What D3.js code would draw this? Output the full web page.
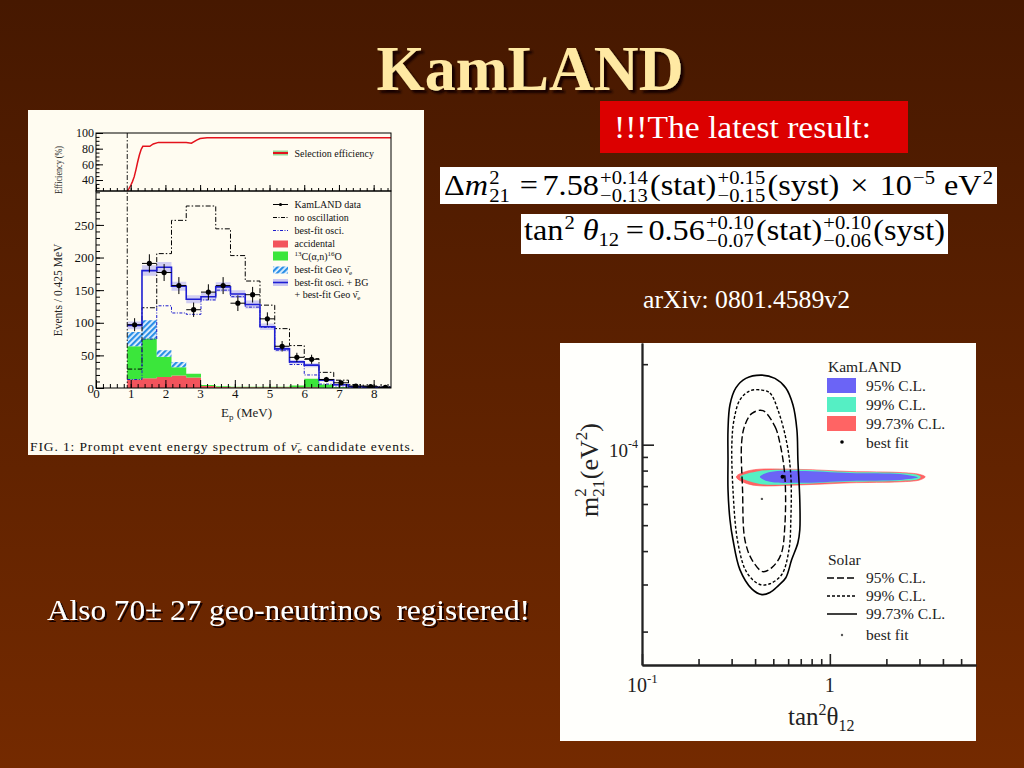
<!DOCTYPE html>
<html>
<head>
<meta charset="utf-8">
<title>KamLAND</title>
<script src="https://cdn.jsdelivr.net/npm/d3@7/dist/d3.min.js"></script>
<style>
  body { margin: 0; background: #5a2000; overflow: hidden; }
  svg { display: block; }
  svg text { font-family: "Liberation Serif", "Times New Roman", Times, serif !important; }
</style>
</head>
<body>
<div id="slide"></div>
<script>
var SERIF = "Liberation Serif";

// ---- left figure: prompt energy spectrum ----
var binEdges   = [0.9, 1.325, 1.75, 2.175, 2.6, 3.025, 3.45, 3.875, 4.3, 4.725, 5.15, 5.575, 6.0, 6.425, 6.85, 7.275, 7.7, 8.125, 8.55];
var noOsc      = [29, 123, 206, 257, 279, 279, 244, 203, 164, 127, 91, 65, 45, 24, 12, 5, 3, 2];
var bestOsc    = [13, 75, 126, 115, 113, 135, 150, 140, 124, 93, 58, 36, 20, 6, 3, 1, 0.5, 0.3];
var fitTotal   = [96, 180, 185, 156, 136, 140, 155, 144, 128, 94, 60, 40, 35, 12, 5, 2, 1, 0.5];
var fitBand    = [6, 8, 8, 7, 6, 6, 7, 6, 6, 5, 4, 3, 3, 2, 1, 1, 1, 1];
var accidental = [13, 15, 17, 19, 16, 3, 1.5, 1, 1, 1, 1, 1, 1, 0.5, 0.5, 0.3, 0.2, 0.2];
var carbonAN   = [51, 61, 31, 13, 6, 1.5, 1, 1, 1, 1, 1, 3, 13, 5, 1, 0.3, 0, 0];
var geoNu      = [22, 28, 10, 8, 0, 0, 0, 0, 0, 0, 0, 0, 0, 0, 0, 0, 0, 0];
var dataVal    = [97, 191, 177, 157, 120, 147, 157, 130, 143, 106, 64, 47, 44, 13, 8, 3, 2, 1];
var dataErr    = [10, 14, 13, 13, 11, 12, 13, 12, 12, 10, 8, 7, 7, 4, 3, 2, 1.5, 1];
var effE   = [0.9, 0.95, 1.0, 1.05, 1.1, 1.15, 1.2, 1.25, 1.3, 1.35, 1.45, 1.55, 1.65, 1.8, 2.0, 2.3, 2.6, 2.75, 2.9, 3.0, 3.2, 3.6, 4.5, 6, 7.5, 8.5];
var effVal = [26, 29, 33, 38, 44, 53, 63, 72, 79, 83, 83, 83, 86, 88, 88, 88, 88, 87, 91, 93, 94, 94, 94, 94, 94, 94];
var effTicks = [40, 60, 80, 100];
var evTicks  = [0, 50, 100, 150, 200, 250];
var eTicks   = [0, 1, 2, 3, 4, 5, 6, 7, 8];

// ---- right figure: oscillation parameter contours (dm2 in 1e-5 eV^2) ----
var kl997 = [[0.318,7.58],[0.375,8.01],[0.692,8.08],[1.28,7.94],[2.36,7.87],[3.01,7.74],[3.22,7.58],[3.01,7.38],[2.36,7.26],[1.28,7.2],[0.692,7.07],[0.375,7.1]];
var kl99  = [[0.332,7.58],[0.424,7.98],[0.692,8.05],[1.28,7.9],[2.36,7.84],[2.94,7.71],[3.05,7.58],[2.94,7.42],[2.36,7.32],[1.28,7.26],[0.692,7.13],[0.424,7.13]];
var kl95  = [[0.424,7.58],[0.48,7.9],[0.692,7.98],[1.28,7.84],[2.36,7.77],[2.76,7.64],[2.95,7.55],[2.36,7.38],[1.28,7.32],[0.692,7.2],[0.48,7.26]];
var solar997 = [[0.435,18.2],[0.51,17.7],[0.583,16.3],[0.636,14.1],[0.668,11.35],[0.676,8.77],[0.692,6.2],[0.692,4.8],[0.676,4.3],[0.626,3.71],[0.583,3.18],[0.529,2.96],[0.48,2.8],[0.435,2.75],[0.384,2.89],[0.332,3.41],[0.305,4.41],[0.294,5.24],[0.287,6.78],[0.287,8.8],[0.287,11.35],[0.294,14.1],[0.316,16.3],[0.357,17.7]];
var solar99  = [[0.435,16.0],[0.48,15.6],[0.529,13.5],[0.59,10.15],[0.62,7.64],[0.62,5.24],[0.606,4.05],[0.555,3.27],[0.48,3.02],[0.424,3.0],[0.362,3.32],[0.324,4.3],[0.305,6.78],[0.301,10.15],[0.309,12.4],[0.332,14.7],[0.375,15.9]];
var solar95  = [[0.44,13.4],[0.51,11.7],[0.542,10.15],[0.576,7.64],[0.576,4.97],[0.549,3.88],[0.491,3.47],[0.44,3.35],[0.385,3.71],[0.353,4.41],[0.343,6.78],[0.339,10.15],[0.353,11.84],[0.385,13.1]];
var klBest    = [0.56, 7.58];
var solarBest = [0.435, 6.27];
var tanMinor = [0.2, 0.3, 0.4, 0.5, 0.6, 0.7, 0.8, 0.9, 2, 3, 4, 5];
var tanMajor = [0.1, 1];
var dmMinor  = [2e-5, 3e-5, 4e-5, 5e-5, 6e-5, 7e-5, 8e-5, 9e-5, 2e-4];
var dmMajor  = [1e-4];

// ---- formulas ----
var formula1 = [{t:"Δ"},{t:"m",it:1},{pair:["2","21"]},{gap:7},{t:"="},{gap:4},{t:"7.58"},{pair:["+0.14","−0.13"]},{t:"(stat)"},{pair:["+0.15","−0.15"]},{t:"(syst)"},{gap:10},{t:"×"},{gap:10},{t:"10"},{sup:"−5"},{gap:8},{t:"eV"},{sup:"2"}];
var formula2 = [{t:"tan"},{sup:"2"},{gap:7},{t:"θ",it:1},{sub:"12"},{gap:6},{t:"="},{gap:4},{t:"0.56"},{pair:["+0.10","−0.07"]},{t:"(stat)"},{pair:["+0.10","−0.06"]},{t:"(syst)"}];

var W = 1024, H = 768;
var svg = d3.select("#slide").append("svg").attr("width", W).attr("height", H)
    .attr("font-family", SERIF);
var defs = svg.append("defs");

var bg = defs.append("linearGradient").attr("id", "bg").attr("x1", 0).attr("y1", 0).attr("x2", 0).attr("y2", 1);
bg.append("stop").attr("offset", "0%").attr("stop-color", "#461800");
bg.append("stop").attr("offset", "100%").attr("stop-color", "#742a00");
svg.append("rect").attr("width", W).attr("height", H).attr("fill", "url(#bg)");

var shadow = defs.append("filter").attr("id", "shadow").attr("x", "-5%").attr("y", "-20%").attr("width", "115%").attr("height", "150%");
shadow.append("feDropShadow").attr("dx", 3).attr("dy", 3).attr("stdDeviation", 0.8)
    .attr("flood-color", "#140500").attr("flood-opacity", 1);
var shadow2 = defs.append("filter").attr("id", "shadow2").attr("x", "-5%").attr("y", "-20%").attr("width", "115%").attr("height", "150%");
shadow2.append("feDropShadow").attr("dx", 2).attr("dy", 2).attr("stdDeviation", 0.6)
    .attr("flood-color", "#140500").attr("flood-opacity", 1);

// title
svg.append("text").attr("x", 530).attr("y", 90).attr("text-anchor", "middle")
    .attr("font-size", 64).attr("font-weight", "bold").attr("fill", "#ffe9a3").attr("filter", "url(#shadow)")
    .attr("textLength", 307).attr("lengthAdjust", "spacingAndGlyphs").text("KamLAND");

// red banner
svg.append("rect").attr("x", 600).attr("y", 101).attr("width", 308).attr("height", 52).attr("fill", "#dc0000");
svg.append("text").attr("x", 614).attr("y", 138).attr("font-size", 31).attr("fill", "#fff")
    .attr("textLength", 257).attr("lengthAdjust", "spacingAndGlyphs").text("!!!The latest result:");

// formula boxes
svg.append("rect").attr("x", 440).attr("y", 167).attr("width", 557).attr("height", 37).attr("fill", "#fff");
svg.append("rect").attr("x", 521).attr("y", 214).attr("width", 427).attr("height", 40).attr("fill", "#fff");

function drawFormula(parts, x0, x1, baseline, size) {
  var g = svg.append("g");
  var small = size * 0.64;
  var x = 0;
  function put(str, px, py, fs, it) {
    var t = g.append("text").attr("x", px).attr("y", py).attr("font-size", fs).attr("fill", "#000")
      .attr("font-style", it ? "italic" : null).text(str);
    return t.node().getComputedTextLength();
  }
  parts.forEach(function(p) {
    if (p.gap) { x += p.gap; }
    else if (p.pair) {
      var a = put(p.pair[0], x + 1, -size * 0.37, small);
      var b = put(p.pair[1], x + 1, size * 0.25, small);
      x += Math.max(a, b) + 3;
    }
    else if (p.sup) { x += put(p.sup, x + 1, -size * 0.38, small) + 1; }
    else if (p.sub) { x += put(p.sub, x, size * 0.22, small); }
    else { x += put(p.t, x, 0, size, p.it); }
  });
  var sx = (x1 - x0) / x;
  g.attr("transform", "translate(" + x0 + "," + baseline + ") scale(" + sx + ",1)");
}
drawFormula(formula1, 444, 993, 195, 29);
drawFormula(formula2, 524, 945, 240, 29);

svg.append("text").attr("x", 643).attr("y", 308).attr("font-size", 24.5).attr("fill", "#fff")
    .attr("textLength", 207).attr("lengthAdjust", "spacingAndGlyphs").text("arXiv: 0801.4589v2");

svg.append("text").attr("x", 47).attr("y", 620).attr("font-size", 30).attr("fill", "#fff").attr("filter", "url(#shadow2)")
    .attr("textLength", 483).attr("lengthAdjust", "spacingAndGlyphs").text("Also 70± 27 geo-neutrinos  registered!")
    .style("white-space", "pre");

// =================== LEFT FIGURE ===================
var L = svg.append("g");
L.append("rect").attr("x", 28).attr("y", 110).attr("width", 396).attr("height", 345).attr("fill", "#fffcf1");

var xE = d3.scaleLinear().domain([0, 8.5]).range([96, 391]);
var yEff = d3.scaleLinear().domain([26, 100]).range([191, 133]);
var yEv = d3.scaleLinear().domain([0, 302]).range([388, 191]);

defs.append("clipPath").attr("id", "histClip").append("rect")
    .attr("x", xE(0)).attr("y", yEv(302)).attr("width", xE(8.5) - xE(0)).attr("height", yEv(0) - yEv(302));
defs.append("clipPath").attr("id", "effClip").append("rect")
    .attr("x", xE(0)).attr("y", yEff(100)).attr("width", xE(8.5) - xE(0)).attr("height", yEff(26) - yEff(100));

var hatch = defs.append("pattern").attr("id", "hatch").attr("patternUnits", "userSpaceOnUse")
    .attr("width", 4).attr("height", 4).attr("patternTransform", "rotate(45)");
hatch.append("rect").attr("width", 4).attr("height", 4).attr("fill", "#e6f3ff");
hatch.append("rect").attr("width", 2.2).attr("height", 4).attr("fill", "#2b8fe6");

function steps(lo, hi) {
  return binEdges.map(function(e, i) {
    var k = Math.min(i, hi.length - 1);
    return { e: e, lo: lo ? lo[k] : 0, hi: hi[k] };
  });
}
var stepArea = d3.area().x(function(d) { return xE(d.e); })
    .y0(function(d) { return yEv(d.lo); }).y1(function(d) { return yEv(d.hi); })
    .curve(d3.curveStepAfter);
var stepLine = d3.line().x(function(d) { return xE(d.e); }).y(function(d) { return yEv(d.hi); })
    .curve(d3.curveStepAfter);

var accTop = accidental.slice();
var cTop = accidental.map(function(v, i) { return v + carbonAN[i]; });
var gTop = cTop.map(function(v, i) { return v + geoNu[i]; });
var bandLo = fitTotal.map(function(v, i) { return Math.max(0, v - fitBand[i]); });
var bandHi = fitTotal.map(function(v, i) { return v + fitBand[i]; });

var hist = L.append("g").attr("clip-path", "url(#histClip)");
hist.append("path").attr("d", stepArea(steps(null, accTop))).attr("fill", "#f2545c");
hist.append("path").attr("d", stepArea(steps(accTop, cTop))).attr("fill", "#3be63b");
hist.append("path").attr("d", stepArea(steps(cTop, gTop).filter(function(d, i) { return i <= 4; })))
    .attr("fill", "url(#hatch)");
hist.append("path").attr("d", stepArea(steps(bandLo, bandHi))).attr("fill", "#c9c6f2").attr("opacity", 0.85);
hist.append("path").attr("d", stepLine(steps(null, noOsc))).attr("fill", "none")
    .attr("stroke", "#000").attr("stroke-width", 1).attr("stroke-dasharray", "5,2,1.5,2");
hist.append("path").attr("d", stepLine(steps(null, bestOsc))).attr("fill", "none")
    .attr("stroke", "#1c1ccc").attr("stroke-width", 1).attr("stroke-dasharray", "3,1.5,1,1.5");
hist.append("path").attr("d", stepLine(steps(null, fitTotal))).attr("fill", "none")
    .attr("stroke", "#1e1ed2").attr("stroke-width", 1.6);

var pts = hist.selectAll("g.pt").data(dataVal).enter().append("g").attr("class", "pt");
pts.append("line")
    .attr("x1", function(d, i) { return xE(binEdges[i]); })
    .attr("x2", function(d, i) { return xE(binEdges[i + 1]); })
    .attr("y1", function(d) { return yEv(d); }).attr("y2", function(d) { return yEv(d); })
    .attr("stroke", "#000").attr("stroke-width", 1);
pts.append("line")
    .attr("x1", function(d, i) { return xE((binEdges[i] + binEdges[i + 1]) / 2); })
    .attr("x2", function(d, i) { return xE((binEdges[i] + binEdges[i + 1]) / 2); })
    .attr("y1", function(d, i) { return yEv(d - dataErr[i]); })
    .attr("y2", function(d, i) { return yEv(d + dataErr[i]); })
    .attr("stroke", "#000").attr("stroke-width", 1);
pts.append("circle")
    .attr("cx", function(d, i) { return xE((binEdges[i] + binEdges[i + 1]) / 2); })
    .attr("cy", function(d) { return yEv(d); }).attr("r", 2.6).attr("fill", "#000");

// efficiency curve
L.append("path").attr("clip-path", "url(#effClip)")
    .attr("d", d3.line().x(function(d, i) { return xE(effE[i]); }).y(function(d) { return yEff(d); })(effVal))
    .attr("fill", "none").attr("stroke", "#e3121c").attr("stroke-width", 1.5);

// threshold line
L.append("line").attr("x1", xE(0.9)).attr("x2", xE(0.9)).attr("y1", yEff(100)).attr("y2", yEv(0))
    .attr("stroke", "#000").attr("stroke-width", 0.9).attr("stroke-dasharray", "5,2,1.5,2");

// frames
L.append("rect").attr("x", xE(0)).attr("y", yEff(100)).attr("width", xE(8.5) - xE(0)).attr("height", yEff(26) - yEff(100))
    .attr("fill", "none").attr("stroke", "#000").attr("stroke-width", 1);
L.append("rect").attr("x", xE(0)).attr("y", yEv(302)).attr("width", xE(8.5) - xE(0)).attr("height", yEv(0) - yEv(302))
    .attr("fill", "none").attr("stroke", "#000").attr("stroke-width", 1);

function tidy(g, fs) {
  g.select(".domain").remove();
  g.attr("font-family", SERIF).attr("font-size", fs);
  g.selectAll("line").attr("stroke", "#000");
  g.selectAll("text").attr("fill", "#111");
}
L.append("g").attr("transform", "translate(" + xE(0) + ",0)")
    .call(d3.axisLeft(yEff).tickValues(effTicks).tickSize(-7).tickPadding(2)).call(tidy, 12);
L.append("g").attr("transform", "translate(" + xE(0) + ",0)")
    .call(d3.axisLeft(yEff).tickValues(d3.range(30, 100, 5)).tickSize(-3.5).tickFormat("")).call(tidy, 12);
L.append("g").attr("transform", "translate(" + xE(0) + ",0)")
    .call(d3.axisLeft(yEv).tickValues(evTicks).tickSize(-8).tickPadding(2)).call(tidy, 13);
L.append("g").attr("transform", "translate(" + xE(0) + ",0)")
    .call(d3.axisLeft(yEv).tickValues(d3.range(0, 301, 10)).tickSize(-4).tickFormat("")).call(tidy, 13);
L.append("g").attr("transform", "translate(0," + yEv(0) + ")")
    .call(d3.axisBottom(xE).tickValues(eTicks).tickSize(-8).tickPadding(1)).call(tidy, 13);
L.append("g").attr("transform", "translate(0," + yEv(0) + ")")
    .call(d3.axisBottom(xE).tickValues(d3.range(0, 8.5, 0.2)).tickSize(-4).tickFormat("")).call(tidy, 13);
L.append("g").attr("transform", "translate(0," + yEff(26) + ")")
    .call(d3.axisBottom(xE).tickValues(eTicks).tickSize(-6).tickFormat("")).call(tidy, 13);
L.append("g").attr("transform", "translate(0," + yEff(26) + ")")
    .call(d3.axisBottom(xE).tickValues(d3.range(0, 8.5, 0.2)).tickSize(-3).tickFormat("")).call(tidy, 13);

// axis titles
L.append("text").attr("transform", "translate(62,170) rotate(-90)").attr("text-anchor", "middle")
    .attr("font-size", 9.5).attr("fill", "#222").attr("textLength", 48).attr("lengthAdjust", "spacingAndGlyphs")
    .text("Efficiency (%)");
L.append("text").attr("transform", "translate(62,290) rotate(-90)").attr("text-anchor", "middle")
    .attr("font-size", 11.5).attr("fill", "#222").text("Events / 0.425 MeV");
var ex = L.append("text").attr("x", 221).attr("y", 417).attr("font-size", 13).attr("fill", "#222");
ex.append("tspan").text("E");
ex.append("tspan").attr("font-size", 9).attr("dy", 3).text("p");
ex.append("tspan").attr("dy", -3).text(" (MeV)");

var cap = L.append("text").attr("x", 30).attr("y", 451).attr("font-size", 13.5).attr("fill", "#111")
    .attr("textLength", 384).attr("lengthAdjust", "spacing");
cap.append("tspan").text("FIG. 1:  Prompt event energy spectrum of ");
cap.append("tspan").attr("font-style", "italic").text("ν̄");
cap.append("tspan").attr("font-style", "italic").attr("font-size", 9).attr("dy", 2).text("e");
cap.append("tspan").attr("dy", -2).text(" candidate events.");

// legends
var lx0 = 273, lx1 = 288, tx = 294.5;
var leg = L.append("g").attr("font-size", 10).attr("fill", "#111");
leg.append("rect").attr("x", lx0).attr("y", 150.5).attr("width", 15).attr("height", 5).attr("fill", "#98d898");
leg.append("line").attr("x1", lx0).attr("x2", lx1).attr("y1", 153).attr("y2", 153).attr("stroke", "#e3121c").attr("stroke-width", 2);
leg.append("text").attr("x", tx).attr("y", 156.5).text("Selection efficiency");

leg.append("line").attr("x1", lx0).attr("x2", lx1).attr("y1", 204.5).attr("y2", 204.5).attr("stroke", "#000");
leg.append("circle").attr("cx", 280.5).attr("cy", 204.5).attr("r", 1.6).attr("fill", "#000");
leg.append("text").attr("x", tx).attr("y", 208).text("KamLAND data");
leg.append("line").attr("x1", lx0).attr("x2", lx1).attr("y1", 217.5).attr("y2", 217.5).attr("stroke", "#000").attr("stroke-dasharray", "4,1.5,1,1.5");
leg.append("text").attr("x", tx).attr("y", 221).text("no oscillation");
leg.append("line").attr("x1", lx0).attr("x2", lx1).attr("y1", 230.5).attr("y2", 230.5).attr("stroke", "#1c1ccc").attr("stroke-dasharray", "3,1.5,1,1.5");
leg.append("text").attr("x", tx).attr("y", 234).text("best-fit osci.");
leg.append("rect").attr("x", lx0).attr("y", 240.5).attr("width", 15).attr("height", 7).attr("fill", "#f2545c");
leg.append("text").attr("x", tx).attr("y", 246.5).text("accidental");
leg.append("rect").attr("x", lx0).attr("y", 251.5).attr("width", 15).attr("height", 9).attr("fill", "#3be63b");
var ct = leg.append("text").attr("x", tx).attr("y", 260);
ct.append("tspan").attr("font-size", 7).attr("dy", -4).text("13");
ct.append("tspan").attr("dy", 4).text("C(α,n)");
ct.append("tspan").attr("font-size", 7).attr("dy", -4).text("16");
ct.append("tspan").attr("dy", 4).text("O");
leg.append("rect").attr("x", lx0).attr("y", 266.5).attr("width", 15).attr("height", 7).attr("fill", "url(#hatch)");
var gt = leg.append("text").attr("x", tx).attr("y", 273);
gt.append("tspan").text("best-fit Geo ν̄");
gt.append("tspan").attr("font-size", 7).attr("dy", 2).text("e");
leg.append("rect").attr("x", lx0).attr("y", 279).attr("width", 15).attr("height", 7).attr("fill", "#c9c6f2");
leg.append("line").attr("x1", lx0).attr("x2", lx1).attr("y1", 282.5).attr("y2", 282.5).attr("stroke", "#1e1ed2").attr("stroke-width", 1.6);
leg.append("text").attr("x", tx).attr("y", 286).text("best-fit osci. + BG");
var gt2 = leg.append("text").attr("x", tx).attr("y", 298);
gt2.append("tspan").text("+ best-fit Geo ν̄");
gt2.append("tspan").attr("font-size", 7).attr("dy", 2).text("e");

// =================== RIGHT FIGURE ===================
var R = svg.append("g");
R.append("rect").attr("x", 560).attr("y", 343).attr("width", 416).attr("height", 398).attr("fill", "#fffffc");

var xT = d3.scaleLog().domain([0.1, 6]).range([642, 976]);
var yM = d3.scaleLog().domain([1.5e-5, 2.4e-4]).range([665, 343]);

defs.append("clipPath").attr("id", "rClip").append("rect")
    .attr("x", 642).attr("y", 343).attr("width", 334).attr("height", 322);

var contour = d3.line().x(function(d) { return xT(d[0]); }).y(function(d) { return yM(d[1] * 1e-5); })
    .curve(d3.curveCatmullRomClosed.alpha(0.5));

var plot = R.append("g").attr("clip-path", "url(#rClip)");
plot.append("path").attr("d", contour(kl997)).attr("fill", "#ff6464").attr("stroke", "#ff5050").attr("stroke-width", 0.6);
plot.append("path").attr("d", contour(kl99)).attr("fill", "#55efc4");
plot.append("path").attr("d", contour(kl95)).attr("fill", "#6b64f6");

plot.append("path").attr("d", contour(solar997)).attr("fill", "none").attr("stroke", "#000").attr("stroke-width", 1.6);
plot.append("path").attr("d", contour(solar99)).attr("fill", "none").attr("stroke", "#000").attr("stroke-width", 1.4).attr("stroke-dasharray", "3,2");
plot.append("path").attr("d", contour(solar95)).attr("fill", "none").attr("stroke", "#000").attr("stroke-width", 1.4).attr("stroke-dasharray", "7,3");

plot.append("circle").attr("cx", xT(klBest[0])).attr("cy", yM(klBest[1] * 1e-5)).attr("r", 2).attr("fill", "#000");
plot.append("circle").attr("cx", xT(solarBest[0])).attr("cy", yM(solarBest[1] * 1e-5)).attr("r", 1.2).attr("fill", "#555");

function tidyR(g) {
  g.attr("font-family", SERIF);
  g.selectAll("line").attr("stroke", "#222").attr("stroke-width", 1.6);
  g.select(".domain").attr("stroke", "#222").attr("stroke-width", 1.8);
}
R.append("g").attr("transform", "translate(642,0)")
    .call(d3.axisLeft(yM).tickValues(dmMinor).tickSize(-6).tickSizeOuter(0).tickFormat("")).call(tidyR);
R.append("g").attr("transform", "translate(642,0)")
    .call(d3.axisLeft(yM).tickValues(dmMajor).tickSize(-12).tickSizeOuter(0).tickFormat("")).call(tidyR);
R.append("g").attr("transform", "translate(0,665)")
    .call(d3.axisBottom(xT).tickValues(tanMinor).tickSize(-6).tickSizeOuter(0).tickFormat("")).call(tidyR);
R.append("g").attr("transform", "translate(0,665)")
    .call(d3.axisBottom(xT).tickValues(tanMajor).tickSize(-11).tickSizeOuter(0).tickFormat("")).call(tidyR);

var yl4 = R.append("text").attr("x", xT(0.1) - 4).attr("y", yM(1e-4) + 12).attr("text-anchor", "end")
    .attr("font-size", 19).attr("fill", "#222");
yl4.append("tspan").text("10");
yl4.append("tspan").attr("font-size", 12).attr("dy", -9).text("-4");
var xl1 = R.append("text").attr("x", xT(0.1) - 15).attr("y", 692).attr("font-size", 20).attr("fill", "#222");
xl1.append("tspan").text("10");
xl1.append("tspan").attr("font-size", 13).attr("dy", -9).text("-1");
R.append("text").attr("x", xT(1)).attr("y", 692).attr("text-anchor", "middle").attr("font-size", 20).attr("fill", "#222").text("1");

var yt = R.append("text").attr("transform", "translate(598,470) rotate(-90)").attr("text-anchor", "middle")
    .attr("font-size", 26).attr("fill", "#222");
yt.append("tspan").text("m");
yt.append("tspan").attr("font-size", 17).attr("dy", 6).text("21");
yt.append("tspan").attr("font-size", 17).attr("dx", -17).attr("dy", -18).text("2");
yt.append("tspan").attr("dx", 9).attr("dy", 12).text("(eV");
yt.append("tspan").attr("font-size", 17).attr("dy", -11).text("2");
yt.append("tspan").attr("dy", 11).text(")");

var xt = R.append("text").attr("x", 788).attr("y", 725).attr("font-size", 25).attr("fill", "#222");
xt.append("tspan").text("tan");
xt.append("tspan").attr("font-size", 16).attr("dy", -10).text("2");
xt.append("tspan").attr("dy", 10).text("θ");
xt.append("tspan").attr("font-size", 16).attr("dy", 6).text("12");

// legends
var rl = R.append("g").attr("font-size", 15.5).attr("fill", "#222");
rl.append("text").attr("x", 828).attr("y", 372).text("KamLAND");
[["#6b64f6", "95% C.L."], ["#55efc4", "99% C.L."], ["#ff6464", "99.73% C.L."]].forEach(function(d, i) {
  rl.append("rect").attr("x", 827).attr("y", 378 + i * 19).attr("width", 29).attr("height", 15).attr("fill", d[0]);
  rl.append("text").attr("x", 866).attr("y", 391 + i * 19).text(d[1]);
});
rl.append("circle").attr("cx", 842).attr("cy", 442).attr("r", 1.8).attr("fill", "#000");
rl.append("text").attr("x", 866).attr("y", 448).text("best fit");

rl.append("text").attr("x", 828).attr("y", 565).text("Solar");
[["7,3", "95% C.L."], ["3,2", "99% C.L."], [null, "99.73% C.L."]].forEach(function(d, i) {
  rl.append("line").attr("x1", 827).attr("x2", 857).attr("y1", 578 + i * 18).attr("y2", 578 + i * 18)
    .attr("stroke", "#000").attr("stroke-width", 1.5).attr("stroke-dasharray", d[0]);
  rl.append("text").attr("x", 866).attr("y", 583 + i * 18).text(d[1]);
});
rl.append("circle").attr("cx", 842).attr("cy", 635).attr("r", 1.2).attr("fill", "#555");
rl.append("text").attr("x", 866).attr("y", 640).text("best fit");
</script>
</body>
</html>
